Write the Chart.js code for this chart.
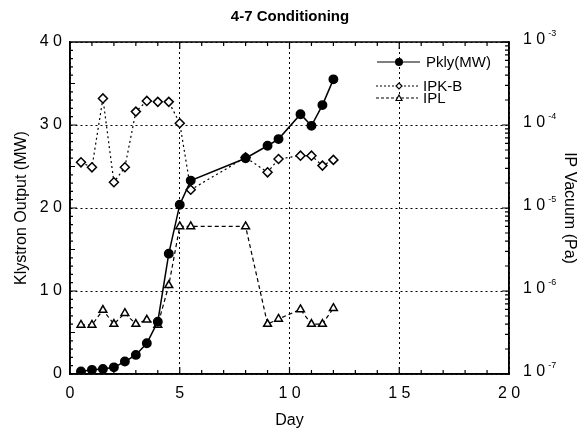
<!DOCTYPE html>
<html lang="en">
<head>
<meta charset="UTF-8">
<title>4-7 Conditioning</title>
<script src="https://cdn.jsdelivr.net/npm/chart.js"></script>
<style>
  body { margin: 0; background: #fff; }
</style>
</head>
<body>
<canvas id="myChart" width="580" height="430"></canvas>
<script>
// readings taken off the plot
const days = [0.5, 1, 1.5, 2, 2.5, 3, 3.5, 4, 4.5, 5, 5.5, 8, 9, 9.5, 10.5, 11, 11.5, 12];
const pkly = [0.3, 0.5, 0.6, 0.8, 1.5, 2.3, 3.7, 6.3, 14.5, 20.4, 23.3, 26, 27.5, 28.3, 31.3, 29.9, 32.4, 35.5];
const ipkb = [3.55e-5, 3.09e-5, 2.09e-4, 2.04e-5, 3.1e-5, 1.45e-4, 1.95e-4, 1.9e-4, 1.9e-4, 1.05e-4, 1.66e-5,
              4.07e-5, 2.69e-5, 3.89e-5, 4.27e-5, 4.27e-5, 3.24e-5, 3.8e-5];
const ipl = [3.9e-7, 3.9e-7, 5.9e-7, 4.0e-7, 5.4e-7, 4.0e-7, 4.5e-7, 3.9e-7, 1.17e-6, 6.0e-6, 6.0e-6,
             6.0e-6, 4.0e-7, 4.6e-7, 6.0e-7, 4.0e-7, 4.0e-7, 6.2e-7];
const xTicks = [0, 5, 10, 15, 20];
const leftTicks = [0, 10, 20, 30, 40];
const rightDecades = [-7, -6, -5, -4, -3];

const FONT = "'Liberation Sans', Arial, sans-serif";

function spaced(v) { return String(v).split('').join(' '); }
function pts(ys) { return days.map((d, i) => ({x: d, y: ys[i]})); }

// box, inward minor ticks, right-hand decade labels and the legend
const decor = {
  id: 'decor',
  afterDatasetsDraw(chart) {
    const ctx = chart.ctx, a = chart.chartArea;
    const sx = chart.scales.x, sy = chart.scales.y, sr = chart.scales.y2;
    ctx.save();
    ctx.strokeStyle = '#000';
    ctx.lineWidth = 1.2;
    ctx.beginPath();
    for (let d = 1; d < 20; d++) {
      const px = sx.getPixelForValue(d), len = d % 5 === 0 ? 7 : 4;
      ctx.moveTo(px, a.bottom); ctx.lineTo(px, a.bottom - len);
      ctx.moveTo(px, a.top); ctx.lineTo(px, a.top + len);
    }
    for (let v = 1; v < 40; v++) {
      const py = sy.getPixelForValue(v), len = v % 10 === 0 ? 7 : (v % 5 === 0 ? 5 : 3);
      ctx.moveTo(a.left, py); ctx.lineTo(a.left + len, py);
    }
    rightDecades.forEach(e => {
      for (let m = 1; m < 10; m++) {
        if (e === -3 && m > 1) break;
        const py = sr.getPixelForValue(m * Math.pow(10, e)), len = m === 1 ? 7 : 4;
        ctx.moveTo(a.right, py); ctx.lineTo(a.right - len, py);
      }
    });
    ctx.stroke();
    ctx.lineWidth = 1.5;
    ctx.strokeRect(a.left, a.top, a.right - a.left, a.bottom - a.top);

    // 10^n labels with a small raised exponent
    ctx.fillStyle = '#000';
    ctx.textBaseline = 'middle';
    ctx.textAlign = 'left';
    rightDecades.forEach(e => {
      const py = sr.getPixelForValue(Math.pow(10, e)) - 2;
      const x0 = a.right + 14;
      ctx.font = '16px ' + FONT;
      ctx.fillText('1 0', x0, py);
      const w = ctx.measureText('1 0').width;
      ctx.font = '9px ' + FONT;
      ctx.fillText('-' + Math.abs(e), x0 + w + 3, py - 6);
    });

    // legend
    const rows = [
      {label: 'Pkly(MW)', y: 62, dash: [], style: 'circle', x0: 377, x1: 420, tx: 426},
      {label: 'IPK-B', y: 86, dash: [2, 2], style: 'diamond', x0: 376, x1: 418, tx: 423},
      {label: 'IPL', y: 98, dash: [3, 2], style: 'triangle', x0: 376, x1: 418, tx: 423}
    ];
    ctx.font = '15px ' + FONT;
    rows.forEach(r => {
      ctx.lineWidth = 1.2;
      ctx.setLineDash(r.dash);
      ctx.beginPath(); ctx.moveTo(r.x0, r.y); ctx.lineTo(r.x1, r.y); ctx.stroke();
      ctx.setLineDash([]);
      const cx = 399;
      ctx.beginPath();
      if (r.style === 'circle') {
        ctx.arc(cx, r.y, 4, 0, Math.PI * 2);
        ctx.fill();
      } else if (r.style === 'diamond') {
        ctx.moveTo(cx, r.y - 3); ctx.lineTo(cx + 3, r.y); ctx.lineTo(cx, r.y + 3); ctx.lineTo(cx - 3, r.y); ctx.closePath();
        ctx.fillStyle = '#fff'; ctx.fill(); ctx.fillStyle = '#000'; ctx.stroke();
      } else {
        ctx.moveTo(cx, r.y - 3); ctx.lineTo(cx + 3, r.y + 2.5); ctx.lineTo(cx - 3, r.y + 2.5); ctx.closePath();
        ctx.fillStyle = '#fff'; ctx.fill(); ctx.fillStyle = '#000'; ctx.stroke();
      }
      ctx.fillText(r.label, r.tx, r.y + 1);
    });
    ctx.restore();
  }
};

const data = {
  datasets: [
    {
      label: 'Pkly(MW)',
      data: pts(pkly),
      yAxisID: 'y',
      borderColor: '#000',
      backgroundColor: '#000',
      borderWidth: 1.5,
      pointStyle: 'circle',
      pointRadius: 4.2,
      pointBackgroundColor: '#000'
    },
    {
      label: 'IPK-B',
      data: pts(ipkb),
      yAxisID: 'y2',
      borderColor: '#000',
      borderWidth: 1.2,
      borderDash: [2, 3],
      pointStyle: 'rectRot',
      pointRadius: 4.5,
      pointBorderWidth: 1.5,
      pointBackgroundColor: '#fff'
    },
    {
      label: 'IPL',
      data: pts(ipl),
      yAxisID: 'y2',
      borderColor: '#000',
      borderWidth: 1.2,
      borderDash: [4, 3],
      pointStyle: 'triangle',
      pointRadius: 4.5,
      pointBorderWidth: 1.5,
      pointBackgroundColor: '#fff'
    }
  ]
};

const dotted = {color: '#000', lineWidth: 1, drawTicks: false};

const config = {
  type: 'line',
  data: data,
  plugins: [decor],
  options: {
    responsive: false,
    animation: false,
    layout: {padding: 0},
    plugins: {
      legend: {display: false},
      tooltip: {enabled: false},
      title: {
        display: true,
        text: '4-7 Conditioning',
        color: '#000',
        font: {family: FONT, size: 15, weight: 'bold'},
        padding: {top: 8, bottom: 16}
      }
    },
    scales: {
      x: {
        type: 'linear',
        min: 0,
        max: 20,
        afterFit: s => { s.height = 56; },
        afterBuildTicks: s => { s.ticks = xTicks.map(v => ({value: v})); },
        ticks: {color: '#000', font: {family: FONT, size: 16}, padding: 10, maxRotation: 0, callback: v => spaced(v)},
        grid: dotted,
        border: {color: '#000', width: 1.5, dash: [2, 3]},
        title: {display: true, text: 'Day', color: '#000', font: {family: FONT, size: 16}, padding: {top: 0, bottom: 0}}
      },
      y: {
        type: 'linear',
        position: 'left',
        min: 0,
        max: 40,
        afterFit: s => { s.width = 70; },
        afterBuildTicks: s => { s.ticks = leftTicks.map(v => ({value: v})); },
        ticks: {color: '#000', font: {family: FONT, size: 16}, padding: 8, callback: v => spaced(v)},
        grid: dotted,
        border: {color: '#000', width: 1.5, dash: [2, 3]},
        title: {display: true, text: 'Klystron Output (MW)', color: '#000', font: {family: FONT, size: 16}, padding: {top: 12, bottom: 0}}
      },
      y2: {
        type: 'logarithmic',
        position: 'right',
        min: 1e-7,
        max: 1e-3,
        afterFit: s => { s.width = 71; },
        afterBuildTicks: s => { s.ticks = rightDecades.map(e => ({value: Math.pow(10, e)})); },
        ticks: {display: false},
        grid: {display: false},
        border: {color: '#000', width: 1.5},
        title: {display: true, text: 'IP Vacuum (Pa)', color: '#000', font: {family: FONT, size: 16}, padding: {top: 1, bottom: 0}}
      }
    }
  }
};

const ctx = document.getElementById('myChart').getContext('2d');
const myChart = new Chart(ctx, config);
</script>
</body>
</html>
